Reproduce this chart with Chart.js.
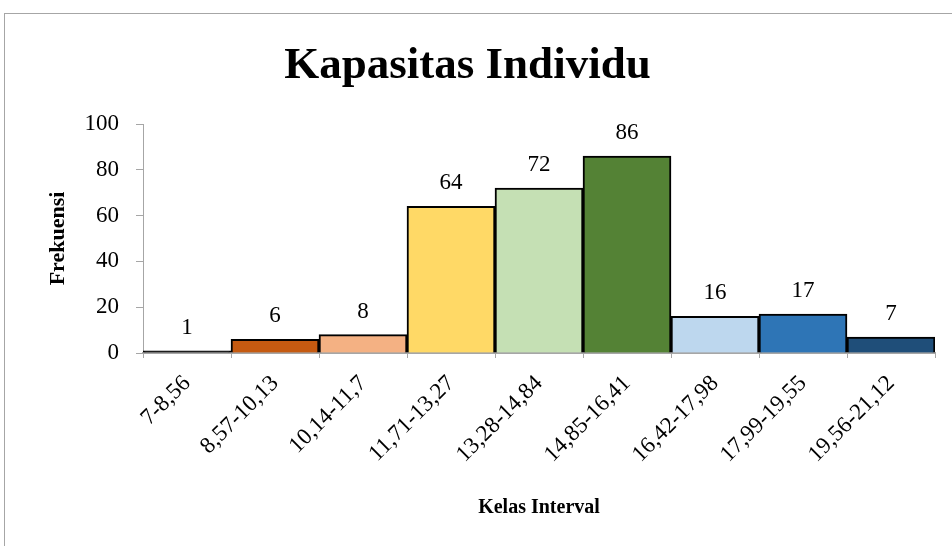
<!DOCTYPE html>
<html>
<head>
<meta charset="utf-8">
<script src="https://cdn.jsdelivr.net/npm/chart.js@4.4.0/dist/chart.umd.min.js"></script>
<style>
  html, body { margin: 0; padding: 0; background: #fff; overflow: hidden; }
  #frame { position: absolute; left: 4px; top: 13px; width: 980px; height: 600px; border: 1px solid #a6a6a6; }
  #wrap { position: absolute; left: 0; top: 0; width: 952px; height: 546px; }
</style>
</head>
<body>
<div id="frame"></div>
<div id="wrap"><canvas id="histChart"></canvas></div>
<script>
const kelas = ['7-8,56', '8,57-10,13', '10,14-11,7', '11,71-13,27', '13,28-14,84', '14,85-16,41', '16,42-17,98', '17,99-19,55', '19,56-21,12'];
const frekuensi = [1, 6, 8, 64, 72, 86, 16, 17, 7];
const warna = ['#262626', '#C55A11', '#F4B183', '#FFD966', '#C5E0B4', '#548235', '#BDD7EE', '#2E75B6', '#1F4E79'];

const serif = "'Liberation Serif', 'Times New Roman', serif";

// simple value labels above each bar
const labelAtas = {
  id: 'labelAtas',
  afterDatasetsDraw(chart) {
    const c = chart.ctx;
    const meta = chart.getDatasetMeta(0);
    c.save();
    c.font = '23px ' + serif;
    c.fillStyle = '#000';
    c.textAlign = 'center';
    c.textBaseline = 'middle';
    meta.data.forEach((bar, i) => {
      c.fillText(String(frekuensi[i]), bar.x, bar.y - 23);
    });
    c.restore();
  }
};

new Chart(document.getElementById('histChart'), {
  type: 'bar',
  data: {
    labels: kelas,
    datasets: [{
      data: frekuensi,
      backgroundColor: warna,
      borderColor: '#000',
      borderWidth: 2,
      barPercentage: 1,
      categoryPercentage: 1,
    }]
  },
  options: {
    responsive: true,
    maintainAspectRatio: false,
    animation: false,
    layout: { padding: { left: 0, right: 17, top: 0, bottom: 0 } },
    plugins: {
      legend: { display: false },
      tooltip: { enabled: false },
      title: {
        display: true,
        text: 'Kapasitas Individu',
        color: '#000',
        font: { family: serif, size: 45, weight: 'bold', lineHeight: 1.2 },
        padding: { top: 39, bottom: 31 }
      }
    },
    scales: {
      x: {
        afterFit: s => { s.height = 193; },
        grid: { display: true, drawOnChartArea: false, drawTicks: true, tickLength: 5, color: '#a6a6a6', offset: true },
        border: { color: '#a6a6a6', width: 2 },
        ticks: {
          color: '#000',
          font: { family: serif, size: 23 },
          minRotation: 45,
          maxRotation: 45,
          autoSkip: false,
          padding: 12
        },
        title: {
          display: true,
          text: 'Kelas Interval',
          color: '#000',
          font: { family: serif, size: 20, weight: 'bold' },
          padding: { top: 0, bottom: 26 }
        }
      },
      y: {
        min: 0,
        max: 100,
        afterFit: s => { s.width = 143; },
        grid: { display: true, drawOnChartArea: false, drawTicks: true, tickLength: 7, color: '#a6a6a6' },
        border: { color: '#a6a6a6', width: 1 },
        ticks: {
          stepSize: 20,
          color: '#000',
          font: { family: serif, size: 23 },
          padding: 17
        },
        title: {
          display: true,
          text: 'Frekuensi',
          color: '#000',
          font: { family: serif, size: 22, weight: 'bold' },
          padding: { top: 45, bottom: 0 }
        }
      }
    }
  },
  plugins: [labelAtas]
});
</script>
</body>
</html>
